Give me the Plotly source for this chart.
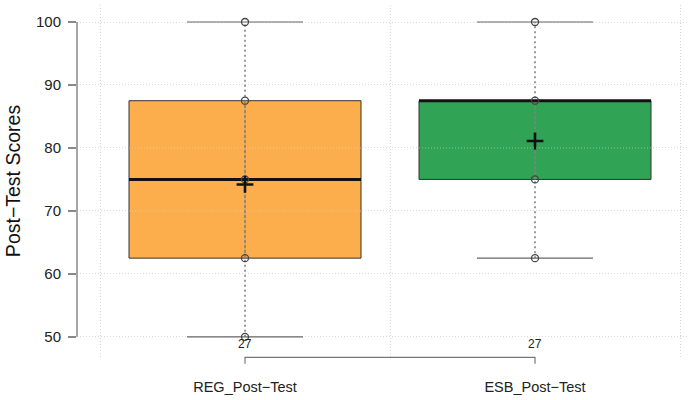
import plotly.graph_objects as go

# Summary statistics for each group
groups = ["REG_Post\u2212Test", "ESB_Post\u2212Test"]
colors = ["#FCAE4C", "#31A354"]
q1 = [62.5, 75.0]
median = [75.0, 87.5]
q3 = [87.5, 87.5]
lower = [50.0, 62.5]
upper = [100.0, 100.0]
means = [74.2, 81.1]
counts = [27, 27]
# Distinct observed scores shown as points
points = [
    [100.0, 87.5, 75.0, 62.5, 50.0],
    [100.0, 87.5, 75.0, 62.5],
]
y_ticks = [50, 60, 70, 80, 90, 100]

xpos = [1, 2]
box_w = 0.8
cap_w = 0.4
x_range = [0.4207, 2.531]
y_range = [46.8, 102.7]

GRID = "#d9d9d9"
GRID_DASH = "1px,2px"
WHISKER = "#808080"

fig = go.Figure()

for i, x in enumerate(xpos):
    # dotted whisker through the whole range
    fig.add_trace(go.Scatter(
        x=[x, x], y=[lower[i], upper[i]], mode="lines",
        line=dict(color=WHISKER, width=1.6, dash="2px,3px"),
        hoverinfo="skip", showlegend=False))
    # whisker caps
    for v in (lower[i], upper[i]):
        fig.add_trace(go.Scatter(
            x=[x - cap_w / 2, x + cap_w / 2], y=[v, v], mode="lines",
            line=dict(color="#666666", width=1.1),
            hoverinfo="skip", showlegend=False))

# boxes as floating bars
fig.add_trace(go.Bar(
    x=xpos, y=[q3[i] - q1[i] for i in range(2)], base=q1, width=box_w,
    marker=dict(color=colors, line=dict(color="#333333", width=1)),
    hoverinfo="skip", showlegend=False, opacity=1))

# faint grid lines over the boxes
for i, x in enumerate(xpos):
    for t in y_ticks:
        if q1[i] < t < q3[i]:
            fig.add_shape(type="line", xref="x", yref="y",
                          x0=x - box_w / 2, x1=x + box_w / 2, y0=t, y1=t,
                          line=dict(color="rgba(220,220,220,0.55)", width=1, dash=GRID_DASH))

for i, x in enumerate(xpos):
    # whisker line over the box
    fig.add_trace(go.Scatter(
        x=[x, x], y=[q1[i], q3[i]], mode="lines",
        line=dict(color=WHISKER, width=1.6, dash="2px,3px"),
        hoverinfo="skip", showlegend=False))
    # median
    fig.add_trace(go.Scatter(
        x=[x - box_w / 2, x + box_w / 2], y=[median[i], median[i]], mode="lines",
        line=dict(color="#111111", width=3),
        hoverinfo="skip", showlegend=False))
    # observed points
    fig.add_trace(go.Scatter(
        x=[x] * len(points[i]), y=points[i], mode="markers",
        marker=dict(symbol="circle-open", size=7, color="#444444", line=dict(width=1.3)),
        hoverinfo="skip", showlegend=False, cliponaxis=False))
    # mean
    fig.add_trace(go.Scatter(
        x=[x], y=[means[i]], mode="markers",
        marker=dict(symbol="cross-thin", size=12, color="#111111",
                    line=dict(width=2.6, color="#111111")),
        hoverinfo="skip", showlegend=False))
    # sample size
    fig.add_annotation(x=x, y=lower[0] - 1.1, text=str(counts[i]), showarrow=False,
                       font=dict(size=12, color="#222222", family="Liberation Sans, Arial"),
                       xanchor="center", yanchor="middle")

# y axis line spanning the tick range
fig.add_shape(type="line", xref="paper", yref="y", x0=0, x1=0,
              y0=y_ticks[0], y1=y_ticks[-1], line=dict(color="#888888", width=1.5))

# bracket joining the two groups below the plot
def to_paper_x(v):
    return (v - x_range[0]) / (x_range[1] - x_range[0])

br_top, br_bot = -0.001, -0.019
bx0, bx1 = to_paper_x(xpos[0]), to_paper_x(xpos[1])
fig.add_shape(type="path", xref="paper", yref="paper",
              path=f"M {bx0},{br_bot} L {bx0},{br_top} L {bx1},{br_top} L {bx1},{br_bot}",
              line=dict(color="#777777", width=1.2))

fig.update_layout(
    width=689, height=400,
    margin=dict(l=77, r=0, t=5, b=43),
    paper_bgcolor="white", plot_bgcolor="white",
    font=dict(family="Liberation Sans, Arial, Helvetica, sans-serif", color="#222222"),
    barmode="overlay",
    xaxis=dict(
        range=x_range, tickvals=xpos, ticktext=groups, ticks="",
        tickfont=dict(size=14.5, color="#222222"), ticklabelstandoff=19,
        showgrid=False, zeroline=False, showline=False,
        minor=dict(tickvals=[0.5, 1.5, 2.5], showgrid=True, gridcolor=GRID,
                   griddash=GRID_DASH, gridwidth=1, ticks=""),
    ),
    yaxis=dict(
        range=y_range, tickvals=y_ticks, ticks="outside", ticklen=8,
        tickcolor="#888888", tickwidth=1.5,
        tickfont=dict(size=15, color="#222222"), ticklabelstandoff=4,
        showgrid=True, gridcolor=GRID, griddash=GRID_DASH, gridwidth=1,
        zeroline=False, showline=False,
        title=dict(text="Post\u2212Test Scores", font=dict(size=19.5, color="#111111"),
                   standoff=10),
    ),
)

fig.write_html("out.html")
